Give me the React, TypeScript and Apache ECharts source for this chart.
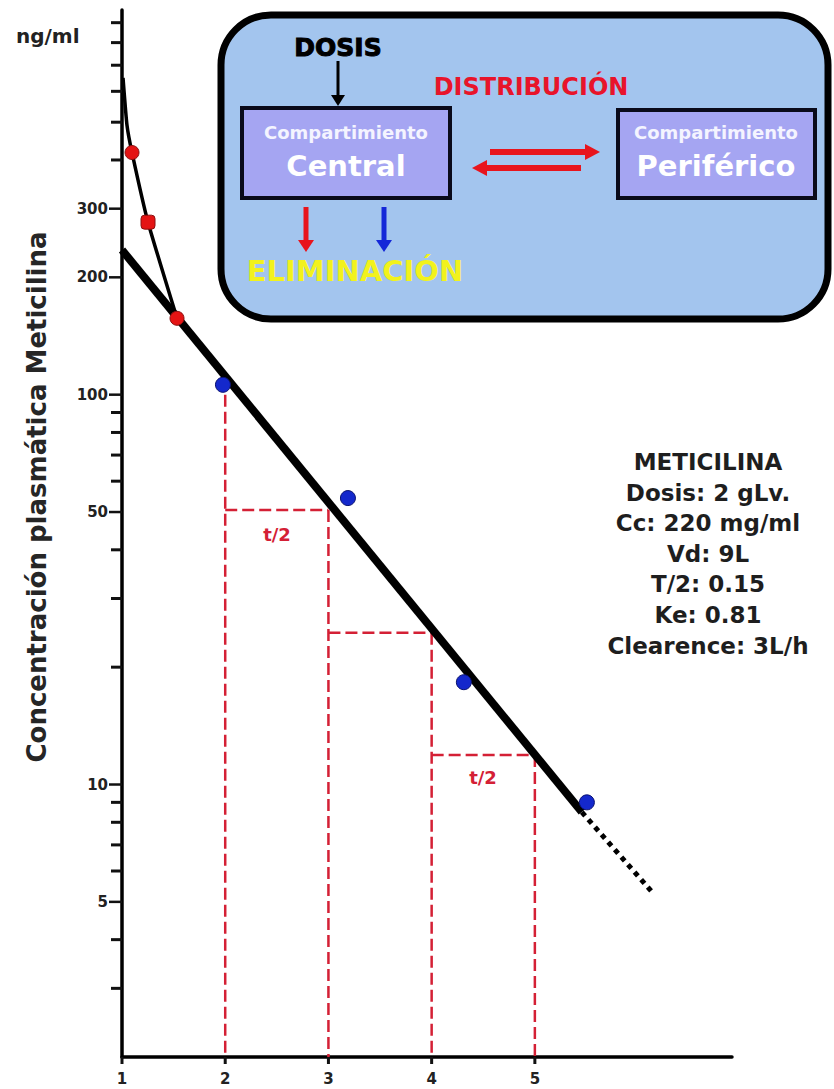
import React, { useEffect, useRef } from "react";
import * as echarts from "echarts";

// ---- data ----
const xTickValues = [1, 2, 3, 4, 5];
const xTickLabels = ["1", "2", "3", "4", "5"];
const yMajorValues = [300, 200, 100, 50, 10, 5];
const yMajorLabels = ["300", "200", "100", "50", "10", "5"];
const yMinorValues = [900, 800, 700, 600, 500, 400, 90, 80, 70, 60, 40, 30, 20, 9, 8, 7, 6, 4, 3];
const yTitle = "Concentración plasmática Meticilina";
const yUnit = "ng/ml";

// distribution phase curve (thin black)
const curveTime = [1.01, 1.048, 1.097, 1.252, 1.533];
const curveConc = [650, 492, 418, 277, 157];
// red points (distribution phase)
const redTime = [1.097, 1.533];
const redConc = [418, 157];
const redSquareTime = [1.252];
const redSquareConc = [277];
// blue points (elimination phase)
const blueTime = [1.978, 3.189, 4.312, 5.504];
const blueConc = [106, 54.3, 18.3, 9.0];
// fitted elimination line + dotted extrapolation
const fitTime = [1, 5.455];
const fitConc = [235, 8.5];
const extTime = [5.455, 6.143];
const extConc = [8.5, 5.27];
// half-life construction
const halfTime = [2, 3, 4, 5];
const halfConc = [100, 50.6, 24.5, 11.9];
const halfLabel = "t/2";
const Y_MIN = 2;
const Y_MAX = 970;

const infoLines = [
  "METICILINA",
  "Dosis: 2 gLv.",
  "Cc: 220 mg/ml",
  "Vd: 9L",
  "T/2: 0.15",
  "Ke: 0.81",
  "Clearence: 3L/h",
];

const pairs = (xs: number[], ys: number[]) => xs.map((x, i) => [x, ys[i]]);

const RED_DASH = "#d42035";

function txt(x: number, y: number, text: string, font: string, fill: string, align = "center", extra: any = {}, rotation = 0) {
  return {
    type: "text",
    x,
    y,
    rotation,
    z: 100,
    silent: true,
    style: {
      text,
      font,
      fill,
      align,
      textAlign: align,
      verticalAlign: "middle",
      textVerticalAlign: "middle",
      ...extra,
    },
  };
}

export default function App() {
  const ref = useRef<HTMLDivElement>(null);

  useEffect(() => {
    if (!ref.current) return;
    const chart = echarts.init(ref.current, undefined, { renderer: "svg" });

    const dashSeries: any[] = [];
    halfTime.forEach((t, i) => {
      dashSeries.push({
        type: "line",
        data: [
          [t, halfConc[i]],
          [t, Y_MIN],
        ],
        symbol: "none",
        silent: true,
        z: 2,
        lineStyle: { color: RED_DASH, width: 2.5, type: [12, 5] },
      });
    });
    for (let i = 0; i < halfTime.length - 1; i++) {
      dashSeries.push({
        type: "line",
        data: [
          [halfTime[i], halfConc[i + 1]],
          [halfTime[i + 1], halfConc[i + 1]],
        ],
        symbol: "none",
        silent: true,
        z: 2,
        lineStyle: { color: RED_DASH, width: 2.5, type: [12, 5] },
      });
    }

    const tickFont = 'bold 15px "DejaVu Sans"';

    const option: any = {
      animation: false,
      backgroundColor: "#ffffff",
      grid: { left: 122, right: 102, top: 10, bottom: 32 },
      xAxis: {
        type: "value",
        min: 1,
        max: 6.91,
        axisLine: { show: true, onZero: false, lineStyle: { color: "#000", width: 3.5 } },
        axisTick: { show: false },
        axisLabel: { show: false },
        splitLine: { show: false },
      },
      yAxis: {
        type: "log",
        logBase: 10,
        min: Y_MIN,
        max: Y_MAX,
        axisLine: { show: true, onZero: false, lineStyle: { color: "#000", width: 3.5 } },
        axisTick: { show: false },
        axisLabel: { show: false },
        splitLine: { show: false },
        minorTick: { show: false },
      },
      series: [
        ...dashSeries,
        {
          type: "line",
          data: pairs(curveTime, curveConc),
          smooth: 0.15,
          symbol: "none",
          silent: true,
          z: 3,
          lineStyle: { color: "#000", width: 3.5 },
        },
        {
          type: "line",
          data: pairs(fitTime, fitConc),
          symbol: "none",
          silent: true,
          z: 3,
          lineStyle: { color: "#000", width: 8 },
        },
        {
          type: "line",
          data: pairs(extTime, extConc),
          symbol: "none",
          silent: true,
          z: 3,
          lineStyle: { color: "#000", width: 5, type: [5, 5] },
        },
        {
          type: "scatter",
          data: pairs(redTime, redConc),
          symbol: "circle",
          symbolSize: 14,
          z: 5,
          itemStyle: { color: "#e41414", borderColor: "#8a1010", borderWidth: 1, opacity: 1 },
        },
        {
          type: "scatter",
          data: pairs(redSquareTime, redSquareConc),
          symbol: "roundRect",
          symbolSize: 14,
          z: 5,
          itemStyle: { color: "#e41414", borderColor: "#8a1010", borderWidth: 1, opacity: 1 },
        },
        {
          type: "scatter",
          data: pairs(blueTime, blueConc),
          symbol: "circle",
          symbolSize: 15,
          z: 5,
          itemStyle: { color: "#1428cc", borderColor: "#0a1270", borderWidth: 1, opacity: 1 },
        },
        {
          type: "custom",
          coordinateSystem: "cartesian2d",
          clip: false,
          silent: true,
          z: 6,
          data: yMajorValues.map((v) => [1, v]),
          renderItem: (params: any, api: any) => {
            const p = api.coord([api.value(0), api.value(1)]);
            return {
              type: "group",
              children: [
                {
                  type: "line",
                  shape: { x1: p[0] - 13, y1: p[1], x2: p[0], y2: p[1] },
                  style: { stroke: "#111", lineWidth: 2.5 },
                },
                {
                  type: "text",
                  x: p[0] - 14,
                  y: p[1],
                  style: {
                    text: yMajorLabels[params.dataIndex],
                    font: tickFont,
                    fill: "#222",
                    align: "right",
                    textAlign: "right",
                    verticalAlign: "middle",
                    textVerticalAlign: "middle",
                  },
                },
              ],
            };
          },
        },
        {
          type: "custom",
          coordinateSystem: "cartesian2d",
          clip: false,
          silent: true,
          z: 6,
          data: yMinorValues.map((v) => [1, v]),
          renderItem: (params: any, api: any) => {
            const p = api.coord([api.value(0), api.value(1)]);
            return {
              type: "line",
              shape: { x1: p[0] - 11, y1: p[1], x2: p[0], y2: p[1] },
              style: { stroke: "#111", lineWidth: 3 },
            };
          },
        },
        {
          type: "custom",
          coordinateSystem: "cartesian2d",
          clip: false,
          silent: true,
          z: 6,
          data: xTickValues.map((v) => [v, Y_MIN]),
          renderItem: (params: any, api: any) => {
            const p = api.coord([api.value(0), api.value(1)]);
            return {
              type: "group",
              children: [
                {
                  type: "line",
                  shape: { x1: p[0], y1: p[1], x2: p[0], y2: p[1] + 7 },
                  style: { stroke: "#111", lineWidth: 3 },
                },
                {
                  type: "text",
                  x: p[0],
                  y: p[1] + 22,
                  style: {
                    text: xTickLabels[params.dataIndex],
                    font: tickFont,
                    fill: "#222",
                    align: "center",
                    textAlign: "center",
                    verticalAlign: "middle",
                    textVerticalAlign: "middle",
                  },
                },
              ],
            };
          },
        },
      ],
      graphic: [
        txt(37, 497, yTitle, 'bold 26px "DejaVu Sans"', "#262626", "center", {}, Math.PI / 2),
        txt(16, 36, yUnit, 'bold 20px "DejaVu Sans"', "#222", "left"),
        txt(277, 534, halfLabel, 'bold 18px "DejaVu Sans"', RED_DASH),
        txt(483, 777, halfLabel, 'bold 18px "DejaVu Sans"', RED_DASH),
        ...infoLines.map((s, i) => txt(708, 462 + i * 30.6, s, 'bold 23px "DejaVu Sans"', "#1e1e1e")),
        // compartment diagram
        {
          type: "rect",
          z: 90,
          silent: true,
          shape: { x: 221, y: 15, width: 607, height: 304, r: 50 },
          style: { fill: "#a3c5ee", stroke: "#000", lineWidth: 7 },
        },
        {
          type: "rect",
          z: 91,
          silent: true,
          shape: { x: 242, y: 108, width: 208, height: 90 },
          style: { fill: "#a5a5f2", stroke: "#0a0a1a", lineWidth: 4 },
        },
        {
          type: "rect",
          z: 91,
          silent: true,
          shape: { x: 618, y: 110, width: 197, height: 88 },
          style: { fill: "#a5a5f2", stroke: "#0a0a1a", lineWidth: 4 },
        },
        txt(338, 47, "DOSIS", 'bold 25px "DejaVu Sans"', "#000", "center", { stroke: "#000", lineWidth: 1 }),
        { type: "line", z: 92, silent: true, shape: { x1: 338, y1: 61, x2: 338, y2: 97 }, style: { stroke: "#000", lineWidth: 3 } },
        { type: "polygon", z: 92, silent: true, shape: { points: [[331, 95], [345, 95], [338, 106]] }, style: { fill: "#000" } },
        txt(531, 87, "DISTRIBUCIÓN", 'bold 24px "DejaVu Sans"', "#e8142a"),
        txt(346, 132, "Compartimiento", 'bold 18px "DejaVu Sans"', "#f4f4ff"),
        txt(346, 166, "Central", 'bold 29px "DejaVu Sans"', "#ffffff"),
        txt(716, 132, "Compartimiento", 'bold 18px "DejaVu Sans"', "#f4f4ff"),
        txt(716, 166, "Periférico", 'bold 29px "DejaVu Sans"', "#ffffff"),
        { type: "line", z: 92, silent: true, shape: { x1: 490, y1: 152, x2: 588, y2: 152 }, style: { stroke: "#e8141c", lineWidth: 6 } },
        { type: "polygon", z: 92, silent: true, shape: { points: [[585, 144], [585, 160], [600, 152]] }, style: { fill: "#e8141c" } },
        { type: "line", z: 92, silent: true, shape: { x1: 484, y1: 168, x2: 581, y2: 168 }, style: { stroke: "#e8141c", lineWidth: 6 } },
        { type: "polygon", z: 92, silent: true, shape: { points: [[487, 160], [487, 176], [472, 168]] }, style: { fill: "#e8141c" } },
        { type: "line", z: 92, silent: true, shape: { x1: 306, y1: 207, x2: 306, y2: 242 }, style: { stroke: "#e8141c", lineWidth: 5 } },
        { type: "polygon", z: 92, silent: true, shape: { points: [[298, 240], [314, 240], [306, 252]] }, style: { fill: "#e8141c" } },
        { type: "line", z: 92, silent: true, shape: { x1: 384, y1: 207, x2: 384, y2: 242 }, style: { stroke: "#1428d8", lineWidth: 5 } },
        { type: "polygon", z: 92, silent: true, shape: { points: [[376, 240], [392, 240], [384, 252]] }, style: { fill: "#1428d8" } },
        txt(355, 271, "ELIMINACIÓN", 'bold 29px "DejaVu Sans"', "#f2f21c"),
      ],
    };

    chart.setOption(option);
    return () => chart.dispose();
  }, []);

  return <div ref={ref} style={{ position: "absolute", left: 0, top: 0, width: 834, height: 1089 }} />;
}
